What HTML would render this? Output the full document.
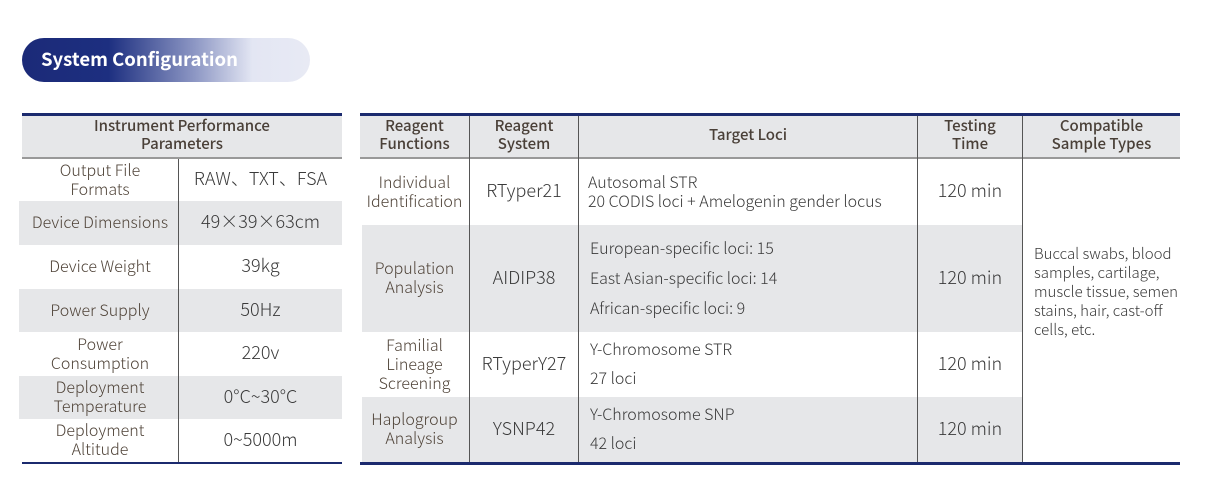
<!DOCTYPE html>
<html><head><meta charset="utf-8"><style>
*{margin:0;padding:0;box-sizing:border-box}
body{width:1210px;height:484px;background:#fff;position:relative;overflow:hidden;font-family:"Noto Sans CJK SC","Liberation Sans",sans-serif;color:#3a3a3a}
.a{position:absolute}
.g{background:#e6e7e9}
.c{position:absolute;display:flex;align-items:center;justify-content:center;text-align:center;line-height:19px;font-weight:300;padding-bottom:3px}
.l{justify-content:flex-start;text-align:left}
.h{color:#4a4038;font-weight:500;font-size:15px;line-height:18px}
.br{color:#4f4338}
.v{position:absolute;width:1px;background:#555}
</style></head><body>
<div class="a" style="left:22px;top:38px;width:288px;height:44px;border-radius:22px;background:linear-gradient(90deg,#1b2a78 0%,#1d2f80 30%,#8d97c4 60%,#e3e6f3 80%,#e8eaf4 100%)"></div>
<div class="a" style="left:41px;top:46px;color:#fff;font-weight:bold;font-size:18.5px;line-height:26px">System Configuration</div>

<div class="a" style="left:22px;top:113px;width:320px;height:3px;background:#1b2a6e"></div>
<div class="a g" style="left:22px;top:116px;width:320px;height:41px"></div>
<div class="a" style="left:22px;top:157px;width:320px;height:2px;background:#999"></div>
<div class="a g" style="left:19px;top:201px;width:323px;height:44px"></div>
<div class="a g" style="left:19px;top:289px;width:323px;height:43px"></div>
<div class="a g" style="left:19px;top:376px;width:323px;height:43px"></div>
<div class="v" style="left:178px;top:159px;height:304px"></div>
<div class="a" style="left:22px;top:462px;width:320px;height:2px;background:#1b2a6e"></div>
<div class="c h" style="left:22px;top:116px;width:320px;height:41px">Instrument Performance<br>Parameters</div>
<div class="c br" style="left:22px;top:159px;width:156px;height:42px;font-size:16px">Output File<br>Formats</div>
<div class="c" style="left:179px;top:159px;width:163px;height:42px;font-size:18px">RAW、TXT、FSA</div>
<div class="c br" style="left:22px;top:201px;width:156px;height:44px;font-size:16px">Device Dimensions</div>
<div class="c" style="left:179px;top:201px;width:163px;height:44px;font-size:18px">49×39×63cm</div>
<div class="c br" style="left:22px;top:245px;width:156px;height:44px;font-size:16px">Device Weight</div>
<div class="c" style="left:179px;top:245px;width:163px;height:44px;font-size:18px">39kg</div>
<div class="c br" style="left:22px;top:289px;width:156px;height:43px;font-size:16px">Power Supply</div>
<div class="c" style="left:179px;top:289px;width:163px;height:43px;font-size:18px">50Hz</div>
<div class="c br" style="left:22px;top:332px;width:156px;height:44px;font-size:16px">Power<br>Consumption</div>
<div class="c" style="left:179px;top:332px;width:163px;height:44px;font-size:18px">220v</div>
<div class="c br" style="left:22px;top:376px;width:156px;height:43px;font-size:16px">Deployment<br>Temperature</div>
<div class="c" style="left:179px;top:376px;width:163px;height:43px;font-size:18px">0°C~30°C</div>
<div class="c br" style="left:22px;top:419px;width:156px;height:43px;font-size:16px">Deployment<br>Altitude</div>
<div class="c" style="left:179px;top:419px;width:163px;height:43px;font-size:18px">0~5000m</div>

<div class="a" style="left:360px;top:113px;width:820px;height:3px;background:#1b2a6e"></div>
<div class="a g" style="left:360px;top:116px;width:820px;height:41px"></div>
<div class="a" style="left:360px;top:157px;width:820px;height:2px;background:#999"></div>
<div class="a g" style="left:362px;top:225px;width:660px;height:107px"></div>
<div class="a g" style="left:362px;top:397px;width:660px;height:66px"></div>
<div class="v" style="left:469px;top:116px;height:347px"></div>
<div class="v" style="left:578px;top:116px;height:347px"></div>
<div class="v" style="left:917px;top:116px;height:347px"></div>
<div class="v" style="left:1022px;top:116px;height:347px"></div>
<div class="a" style="left:360px;top:462px;width:820px;height:3px;background:#1b2a6e"></div>
<div class="c h" style="left:360px;top:116px;width:109px;height:41px">Reagent<br>Functions</div>
<div class="c h" style="left:470px;top:116px;width:108px;height:41px">Reagent<br>System</div>
<div class="c h" style="left:579px;top:116px;width:338px;height:41px">Target Loci</div>
<div class="c h" style="left:918px;top:116px;width:104px;height:41px">Testing<br>Time</div>
<div class="c h" style="left:1023px;top:116px;width:157px;height:41px">Compatible<br>Sample Types</div>

<div class="c br" style="left:360px;top:159px;width:109px;height:66px;font-size:16px">Individual<br>Identification</div>
<div class="c" style="left:470px;top:159px;width:108px;height:66px;font-size:18px">RTyper21</div>
<div class="c l" style="left:588px;top:159px;width:329px;height:66px;font-size:16px">Autosomal STR<br>20 CODIS loci + Amelogenin gender locus</div>
<div class="c" style="left:918px;top:159px;width:104px;height:66px;font-size:18px">120 min</div>

<div class="c br" style="left:360px;top:225px;width:109px;height:107px;font-size:16px">Population<br>Analysis</div>
<div class="c" style="left:470px;top:225px;width:108px;height:107px;font-size:18px">AIDIP38</div>
<div class="c l" style="left:590px;top:225px;width:327px;height:107px;font-size:16px;line-height:30px">European-specific loci: 15<br>East Asian-specific loci: 14<br>African-specific loci: 9</div>
<div class="c" style="left:918px;top:225px;width:104px;height:107px;font-size:18px">120 min</div>

<div class="c br" style="left:360px;top:332px;width:109px;height:65px;font-size:16px">Familial<br>Lineage<br>Screening</div>
<div class="c" style="left:470px;top:332px;width:108px;height:65px;font-size:18px">RTyperY27</div>
<div class="c l" style="left:590px;top:332px;width:327px;height:65px;font-size:16px;line-height:29px">Y-Chromosome STR<br>27 loci</div>
<div class="c" style="left:918px;top:332px;width:104px;height:65px;font-size:18px">120 min</div>

<div class="c br" style="left:360px;top:397px;width:109px;height:65px;font-size:16px">Haplogroup<br>Analysis</div>
<div class="c" style="left:470px;top:397px;width:108px;height:65px;font-size:18px">YSNP42</div>
<div class="c l" style="left:590px;top:397px;width:327px;height:65px;font-size:16px;line-height:29px">Y-Chromosome SNP<br>42 loci</div>
<div class="c" style="left:918px;top:397px;width:104px;height:65px;font-size:18px">120 min</div>

<div class="a" style="left:1034px;top:244px;width:150px;font-size:15px;line-height:19px;font-weight:300">Buccal swabs, blood samples, cartilage, muscle tissue, semen stains, hair, cast-off cells, etc.</div>
</body></html>
